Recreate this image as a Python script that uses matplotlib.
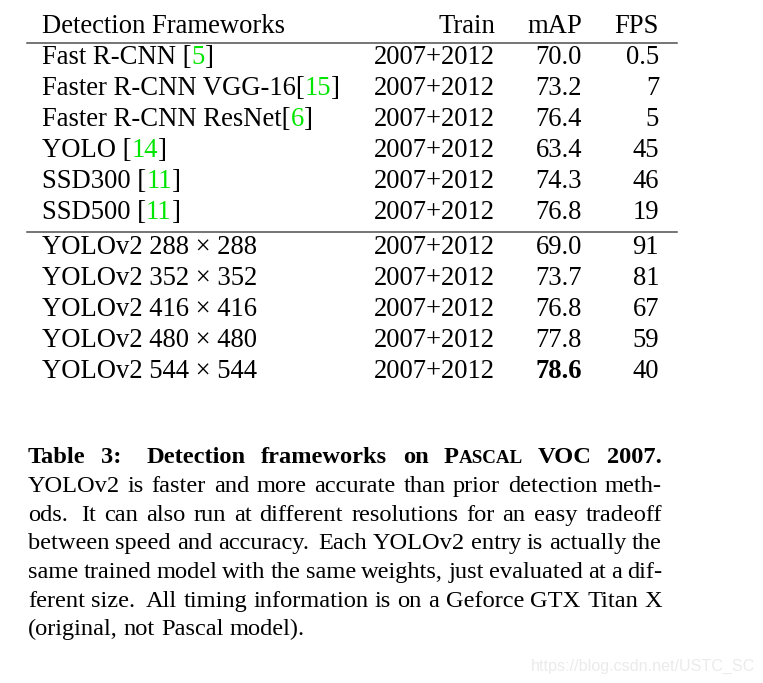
import matplotlib
matplotlib.use('Agg')
import matplotlib.pyplot as plt
from matplotlib.transforms import IdentityTransform
from matplotlib.lines import Line2D

# table data
headers = ['Detection Frameworks', 'Train', 'mAP', 'FPS']
methods = ['Fast R-CNN ', 'Faster R-CNN VGG-16', 'Faster R-CNN ResNet', 'YOLO ', 'SSD300 ', 'SSD500 ',
           'YOLOv2 288 × 288', 'YOLOv2 352 × 352', 'YOLOv2 416 × 416', 'YOLOv2 480 × 480', 'YOLOv2 544 × 544']
refs = ['5', '15', '6', '14', '11', '11', None, None, None, None, None]
train = ['2007+2012'] * 11
mAP = ['70.0', '73.2', '76.4', '63.4', '74.3', '76.8', '69.0', '73.7', '76.8', '77.8', '78.6']
fps = ['0.5', '7', '5', '45', '46', '19', '91', '81', '67', '59', '40']
best = '78.6'

caption_lines = [
    'YOLOv2 is faster and more accurate than prior detection meth-',
    'ods.  It can also run at different resolutions for an easy tradeoff',
    'between speed and accuracy.  Each YOLOv2 entry is actually the',
    'same trained model with the same weights, just evaluated at a dif-',
    'ferent size.  All timing information is on a Geforce GTX Titan X',
    '(original, not Pascal model).',
]

W, H = 763, 683
fig = plt.figure(figsize=(W / 100, H / 100), dpi=100)
fig.patch.set_facecolor('white')
rend = fig.canvas.get_renderer()
SERIF = ['Liberation Serif', 'DejaVu Serif']
GREEN = '#00e600'
TS = 19.2    # table font size
CS = 17.6    # caption font size


def put(x, y, pieces, size, ha='left'):
    """pieces: list of (text, color, weight, scale); y is image row of baseline"""
    arts = []
    cx = x
    for s, c, w, k in pieces:
        t = fig.text(cx, H - y, s, transform=IdentityTransform(), fontsize=size * k,
                     color=c, fontweight=w, family=SERIF, va='baseline')
        cx += t.get_window_extent(rend).width
        arts.append(t)
    width = cx - x
    if ha == 'right':
        for t in arts:
            px, py = t.get_position()
            t.set_position((px - width, py))
    return arts, width


def hline(y, x0=27, x1=677):
    fig.add_artist(Line2D([x0, x1], [H - y, H - y], transform=IdentityTransform(),
                          color='#505050', lw=1.1))


def textw(s, size):
    t = fig.text(0, 0, s, fontsize=size, family=SERIF)
    w = t.get_window_extent(rend).width
    t.remove()
    return w


# header
put(42, 33, [(headers[0], 'black', 'normal', 1)], TS)
put(495, 33, [(headers[1], 'black', 'normal', 1)], TS, 'right')
put(582, 33, [(headers[2], 'black', 'normal', 1)], TS, 'right')
put(659, 33, [(headers[3], 'black', 'normal', 1)], TS, 'right')
hline(42.5)
hline(232)

ys = [64, 95, 126, 157, 188, 219, 254, 285, 316, 347, 378]
for i, y in enumerate(ys):
    if refs[i]:
        pcs = [(methods[i] + '[', 'black', 'normal', 1), (refs[i], GREEN, 'normal', 1), (']', 'black', 'normal', 1)]
    else:
        pcs = [(methods[i], 'black', 'normal', 1)]
    put(42, y, pcs, TS)
    put(495, y, [(train[i], 'black', 'normal', 1)], TS, 'right')
    put(582, y, [(mAP[i], 'black', 'bold' if mAP[i] == best and i == 10 else 'normal', 1)], TS, 'right')
    put(659, y, [(fps[i], 'black', 'normal', 1)], TS, 'right')

# caption, justified between L and R
L, R = 28, 662


def justify(y, words, gapw, last=False):
    ws = []
    for pcs in words:
        arts, w = put(0, y, pcs, CS)
        for a in arts:
            a.remove()
        ws.append(w)
    if last:
        sp = textw('a a', CS) - 2 * textw('a', CS)
        gaps = [sp * g for g in gapw]
    else:
        unit = ((R - L) - sum(ws)) / sum(gapw)
        gaps = [unit * g for g in gapw]
    x = L
    for j, pcs in enumerate(words):
        put(x, y, pcs, CS)
        x += ws[j]
        if j < len(gaps):
            x += gaps[j]


B = 'bold'
title_words = [
    [('Table', 'black', B, 1)], [('3:', 'black', B, 1)], [('Detection', 'black', B, 1)],
    [('frameworks', 'black', B, 1)], [('on', 'black', B, 1)],
    [('P', 'black', B, 1), ('ASCAL', 'black', B, 0.78)], [('VOC', 'black', B, 1)], [('2007.', 'black', B, 1)],
]
justify(463, title_words, [1, 1.7, 1, 1, 1, 1, 1])

cys = [492, 521, 549, 578, 607, 635]
for k, line in enumerate(caption_lines):
    words, gapw = [], []
    for p in line.split(' '):
        if p == '':
            continue
        if words:
            gapw.append(1.6 if words[-1][0][0].endswith('.') else 1)
        words.append([(p, 'black', 'normal', 1)])
    justify(cys[k], words, gapw, last=(k == len(caption_lines) - 1))

fig.text(755, H - 671, 'https://blog.csdn.net/USTC_SC', transform=IdentityTransform(),
         fontsize=11.6, color='#ebebeb', family=['Liberation Sans', 'DejaVu Sans'],
         ha='right', va='baseline')

fig.savefig('out.png', dpi=100)
